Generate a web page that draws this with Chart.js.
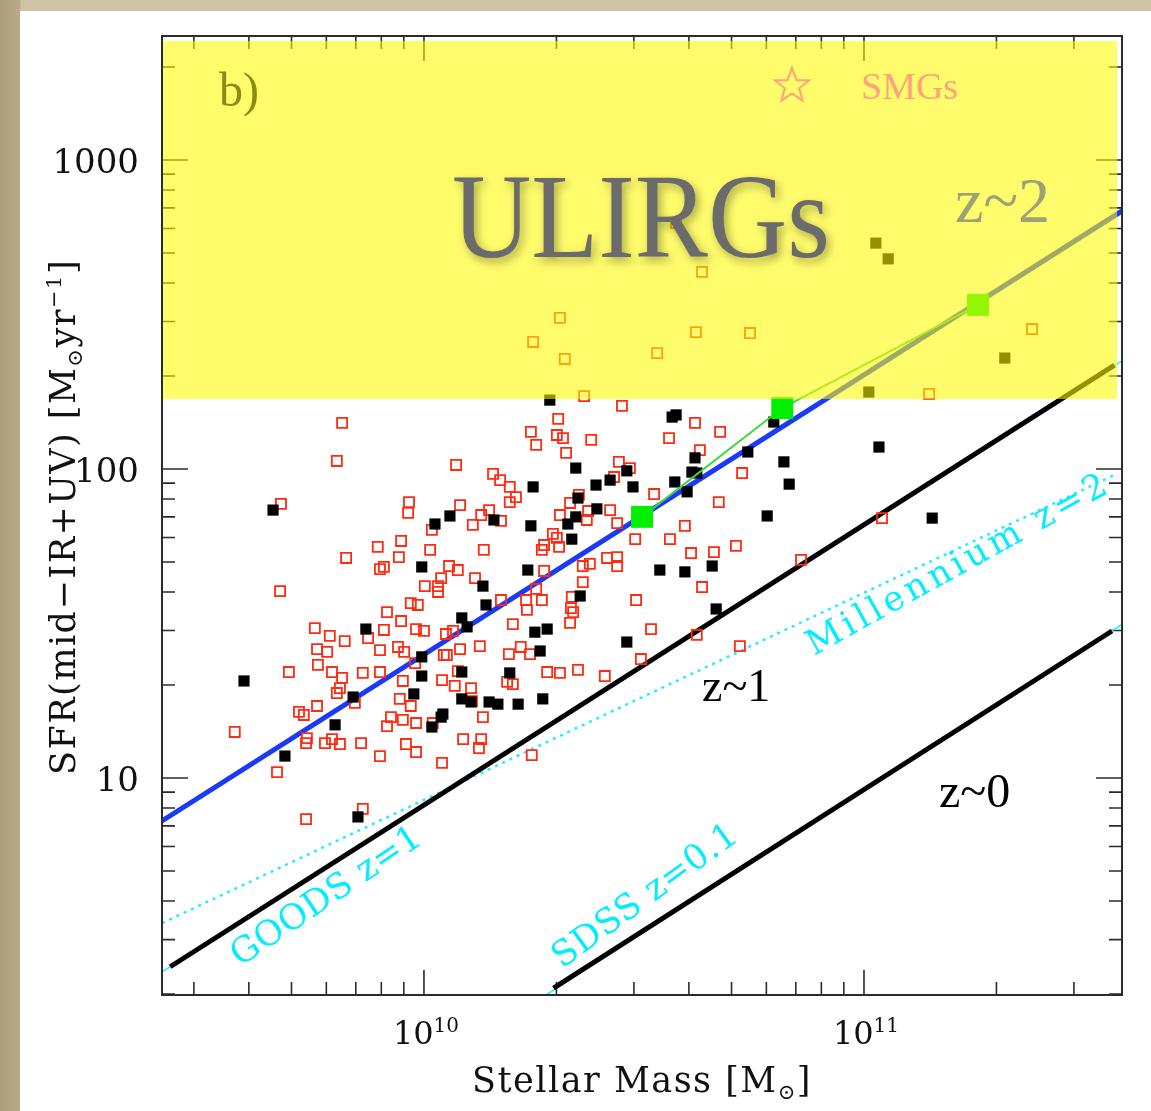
<!DOCTYPE html>
<html>
<head>
  <meta charset="UTF-8" />
  <title>SFR vs Stellar Mass</title>
  <script src="https://cdn.jsdelivr.net/npm/chart.js"></script>
  <style>
    body {
      margin: 0;
      width: 1151px;
      height: 1111px;
      overflow: hidden;
      background: linear-gradient(90deg, #ab9d79 0px, #b9ab88 20px, #cfc3a6 21px);
    }

    #panel {
      position: absolute;
      left: 20px;
      top: 11px;
      width: 1131px;
      height: 1100px;
      background: #fff;
    }

    canvas {
      position: absolute;
      left: 0;
      top: 0;
    }
  </style>
</head>
<body>

  <div id="panel"></div>
  <canvas id="chart" width="1151" height="1111"></canvas>

  <script>
    // axis ranges
    const massRange = [2.539e9, 3.858e11];
    const sfrRange = [1.985, 2519];

    // tick labels
    const xMajorTicks = [1e10, 1e11];
    const xTickExponents = ['10', '11'];
    const yMajorTicks = [10, 100, 1000];
    const yTickLabels = ['10', '100', '1000'];

    // ULIRG band (SFR above ~170 Msun/yr)
    const ulirgMass = [2.55e9, 3.76e11];
    const ulirgSfr = [168.5, 2427];

    // filled black squares, log10(M) and log10(SFR)
    const blackLogM = [9.657, 9.591, 9.684, 9.798, 9.839, 9.850, 9.868, 9.995, 10.025, 10.059,
      10.159, 10.248, 10.243, 10.134, 10.141, 10.086, 10.098, 10.236, 10.252, 10.280,
      10.264, 9.995, 9.995, 10.086, 10.195, 9.977, 10.086, 10.107, 10.148, 10.168,
      10.214, 10.270, 10.043, 10.039, 10.018, 10.286, 10.345, 10.350, 10.345, 10.327,
      10.336, 10.355, 10.391, 10.423, 10.461, 10.475, 10.393, 10.461, 10.536, 10.593,
      10.655, 10.664, 10.564, 10.573, 10.795, 10.736, 10.616, 10.609, 10.620, 10.570,
      10.598, 10.818, 10.830, 11.034, 10.780, 11.155, 11.011, 11.027, 11.055, 11.320];
    const blackLogSfr = [1.867, 1.314, 1.071, 1.172, 1.262, 0.874, 1.482, 1.683, 1.822, 1.848,
      1.835, 1.942, 1.816, 1.621, 1.560, 1.518, 1.489, 1.673, 1.472, 1.482,
      1.411, 1.392, 1.330, 1.343, 1.340, 1.272, 1.256, 1.246, 1.246, 1.239,
      1.239, 1.256, 1.207, 1.197, 1.165, 2.223, 2.003, 1.906, 1.845, 1.822,
      1.773, 1.589, 1.948, 1.964, 1.994, 1.942, 1.871, 1.440, 1.673, 1.667,
      1.686, 1.547, 2.168, 2.175, 2.152, 2.055, 2.036, 1.990, 1.987, 1.958,
      1.926, 2.023, 1.951, 2.071, 1.848, 1.841, 2.249, 2.731, 2.680, 2.359];

    // open red squares, log10(M) and log10(SFR)
    const redLogM = [10.573, 10.632, 10.309, 10.248, 10.320, 10.530, 10.618, 10.741, 11.382, 10.364,
      11.148, 9.814, 9.802, 9.675, 9.673, 9.823, 9.895, 9.948, 9.943, 9.909,
      9.900, 9.966, 9.964, 10.018, 10.014, 10.073, 10.082, 10.111, 10.130, 10.148,
      10.175, 10.136, 10.157, 10.173, 10.195, 10.209, 10.195, 10.243, 10.255, 10.305,
      10.302, 10.316, 10.323, 10.332, 10.309, 10.293, 10.302, 10.273, 10.268, 10.307,
      10.273, 10.255, 10.232, 10.234, 10.268, 10.175, 10.202, 10.220, 10.241, 10.193,
      10.189, 10.202, 10.280, 10.309, 10.350, 10.411, 10.336, 10.334, 10.339, 10.332,
      10.116, 10.057, 10.077, 10.039, 10.032, 10.032, 10.002, 9.916, 9.970, 9.986,
      9.948, 9.909, 9.982, 10.000, 10.050, 10.066, 10.127, 10.082, 10.052, 10.045,
      9.941, 9.955, 9.980, 9.900, 10.041, 10.070, 10.107, 10.077, 9.952, 9.900,
      9.861, 9.814, 9.791, 9.759, 9.780, 9.757, 9.820, 9.786, 9.752, 9.873,
      9.693, 9.809, 9.802, 9.843, 9.757, 9.716, 9.727, 9.570, 9.734, 9.732,
      9.775, 9.791, 9.809, 9.857, 9.666, 9.900, 9.959, 9.982, 10.041, 9.925,
      9.916, 9.952, 9.982, 10.020, 9.945, 9.970, 10.089, 10.130, 10.125, 10.134,
      10.109, 10.245, 9.861, 9.732, 10.450, 10.380, 10.557, 10.616, 10.673, 10.627,
      10.723, 10.443, 10.468, 10.432, 10.523, 10.670, 10.593, 10.559, 10.480, 10.607,
      10.659, 10.709, 10.632, 10.482, 10.516, 10.620, 10.718, 10.857, 11.041, 10.373,
      10.370, 10.423, 10.439, 10.352, 10.361, 10.377, 10.416, 10.439, 10.439, 10.361,
      10.493];
    const redLogSfr = [2.796, 2.638, 2.489, 2.411, 2.356, 2.375, 2.443, 2.440, 2.453, 2.236,
      2.243, 2.149, 2.026, 1.887, 1.605, 1.712, 1.748, 1.767, 1.715, 1.683,
      1.676, 1.893, 1.858, 1.803, 1.738, 2.013, 1.883, 1.819, 1.851, 1.867,
      1.832, 1.738, 1.984, 1.964, 1.942, 1.909, 1.893, 2.120, 2.078, 2.162,
      2.110, 2.100, 2.052, 1.890, 1.851, 1.790, 1.777, 1.754, 1.738, 1.748,
      1.670, 1.612, 1.576, 1.544, 1.576, 1.576, 1.498, 1.424, 1.401, 1.401,
      1.311, 1.304, 1.343, 1.340, 1.350, 1.330, 1.586, 1.550, 1.537, 1.502,
      1.647, 1.686, 1.673, 1.647, 1.621, 1.602, 1.621, 1.537, 1.566, 1.560,
      1.508, 1.479, 1.482, 1.476, 1.466, 1.476, 1.427, 1.417, 1.398, 1.398,
      1.424, 1.408, 1.372, 1.414, 1.317, 1.298, 1.291, 1.346, 1.314, 1.343,
      1.340, 1.324, 1.343, 1.366, 1.408, 1.417, 1.443, 1.460, 1.485, 1.453,
      1.343, 1.291, 1.275, 1.243, 1.233, 1.214, 1.204, 1.149, 1.129, 1.113,
      1.113, 1.126, 1.110, 1.113, 1.019, 1.071, 1.110, 1.084, 1.049, 1.197,
      1.168, 1.188, 1.178, 1.178, 1.256, 1.233, 1.126, 1.126, 1.097, 1.197,
      1.249, 1.074, 0.900, 0.867, 2.204, 2.094, 2.100, 2.149, 2.120, 2.061,
      1.987, 2.023, 2.003, 1.974, 1.919, 1.893, 1.816, 1.773, 1.773, 1.728,
      1.731, 1.751, 1.618, 1.576, 1.482, 1.463, 1.427, 1.706, 1.841, 1.864,
      1.835, 1.867, 1.825, 1.916, 1.686, 1.693, 1.712, 1.715, 1.686, 1.634,
      1.385];

    // stacked (green) points
    const greenMass = [3.13e10, 6.52e10, 1.816e11];
    const greenSfr = [70.0, 157.5, 339.8];

    // relations (end points)
    const z2Mass = [2.539e9, 3.858e11];
    const z2Sfr = [7.26, 684];
    const z1Mass = [2.65e9, 3.71e11];
    const z1Sfr = [2.45, 217];
    const goodsMass = [2.539e9, 3.858e11];
    const goodsSfr = [2.36, 224];
    const millenniumMass = [2.539e9, 3.71e11];
    const millenniumSfr = [3.39, 95.7];
    const z0Mass = [1.97e10, 3.66e11];
    const z0Sfr = [2.09, 29.9];
    const sdssMass = [1.90e10, 3.858e11];
    const sdssSfr = [1.99, 31.4];

    const pairs = (xs, ys) => xs.map((v, i) => ({ x: v, y: ys[i] }));
    const logPairs = (xs, ys) => xs.map((v, i) => ({ x: Math.pow(10, v), y: Math.pow(10, ys[i]) }));

    // minor tick positions
    const xMinorTicks = [];
    const yMinorTicks = [];
    [1e9, 1e10, 1e11].forEach(d => {
      for (let k = 2; k < 10; k++) {
        if (k * d > massRange[0] && k * d < massRange[1]) xMinorTicks.push(k * d);
      }
    });
    [1, 10, 100, 1000].forEach(d => {
      for (let k = 2; k < 10; k++) {
        if (k * d > sfrRange[0] && k * d < sfrRange[1]) yMinorTicks.push(k * d);
      }
    });

    function drawRuns(ctx, parts, x, y, align) {
      let total = 0;
      parts.forEach(p => {
        ctx.font = p.f;
        p.w = ctx.measureText(p.t).width;
        total += p.w;
      });
      let cx = align === 'right' ? x - total : (align === 'center' ? x - total / 2 : x);
      parts.forEach(p => {
        ctx.font = p.f;
        ctx.fillText(p.t, cx, y + (p.dy || 0));
        cx += p.w;
      });
    }

    function slanted(ctx, text, x, y, deg, font, length) {
      ctx.save();
      ctx.translate(x, y);
      ctx.rotate(-deg * Math.PI / 180);
      ctx.font = font;
      ctx.letterSpacing = '0px';
      const w = ctx.measureText(text).width;
      ctx.letterSpacing = ((length - w) / (text.length - 1)) + 'px';
      ctx.fillText(text, 0, 0);
      ctx.restore();
    }

    function star(ctx, cx, cy, r1, r2) {
      ctx.beginPath();
      for (let i = 0; i < 10; i++) {
        const r = i % 2 === 0 ? r1 : r2;
        const a = -Math.PI / 2 + i * Math.PI / 5;
        const px = cx + r * Math.cos(a);
        const py = cy + r * Math.sin(a);
        if (i === 0) ctx.moveTo(px, py); else ctx.lineTo(px, py);
      }
      ctx.closePath();
      ctx.stroke();
    }

    const decorations = {
      id: 'decorations',
      beforeDatasetsDraw(chart) {
        const { ctx, chartArea: a, scales: { x, y } } = chart;
        ctx.save();
        ctx.strokeStyle = '#2b2b2b';
        ctx.lineWidth = 1.6;
        ctx.beginPath();
        const xt = (v, len) => {
          const px = x.getPixelForValue(v);
          ctx.moveTo(px, a.bottom); ctx.lineTo(px, a.bottom - len);
          ctx.moveTo(px, a.top); ctx.lineTo(px, a.top + len);
        };
        const yt = (v, len) => {
          const py = y.getPixelForValue(v);
          ctx.moveTo(a.left, py); ctx.lineTo(a.left + len, py);
          ctx.moveTo(a.right, py); ctx.lineTo(a.right - len, py);
        };
        xMinorTicks.forEach(v => xt(v, 13));
        xMajorTicks.forEach(v => xt(v, 25));
        yMinorTicks.forEach(v => yt(v, 13));
        yMajorTicks.forEach(v => yt(v, 26));
        ctx.stroke();
        ctx.restore();
      },
      afterDatasetsDraw(chart) {
        const { ctx, chartArea: a, scales: { x, y } } = chart;
        ctx.save();

        // translucent ULIRG band
        const bx0 = x.getPixelForValue(ulirgMass[0]);
        const bx1 = x.getPixelForValue(ulirgMass[1]);
        const by0 = y.getPixelForValue(ulirgSfr[1]);
        const by1 = y.getPixelForValue(ulirgSfr[0]);
        ctx.fillStyle = 'rgba(255, 250, 0, 0.58)';
        ctx.fillRect(bx0, by0, bx1 - bx0, by1 - by0);

        // frame
        ctx.strokeStyle = '#2b2b2b';
        ctx.lineWidth = 2;
        ctx.strokeRect(a.left, a.top, a.right - a.left, a.bottom - a.top);

        // tick labels
        ctx.fillStyle = '#111';
        ctx.textBaseline = 'alphabetic';
        yMajorTicks.forEach((v, i) => {
          drawRuns(ctx, [{ t: yTickLabels[i], f: '34px "DejaVu Serif"' }], 139, y.getPixelForValue(v) + 13, 'right');
        });
        xMajorTicks.forEach((v, i) => {
          drawRuns(ctx, [
            { t: '10', f: '32px "DejaVu Serif"' },
            { t: xTickExponents[i], f: '20px "DejaVu Serif"', dy: -12 }
          ], x.getPixelForValue(v) + 2, 1044, 'center');
        });

        // axis titles
        ctx.letterSpacing = '1.5px';
        drawRuns(ctx, [
          { t: 'Stellar Mass [M', f: '35px "DejaVu Serif"' },
          { t: '\u2299', f: '21px "DejaVu Serif"', dy: 7 },
          { t: ']', f: '35px "DejaVu Serif"' }
        ], (a.left + a.right) / 2, 1092, 'center');
        ctx.save();
        ctx.translate(75, 517);
        ctx.rotate(-Math.PI / 2);
        drawRuns(ctx, [
          { t: 'SFR(mid\u2212IR+UV) [M', f: '35px "DejaVu Serif"' },
          { t: '\u2299', f: '21px "DejaVu Serif"', dy: 7 },
          { t: 'yr', f: '35px "DejaVu Serif"' },
          { t: '\u22121', f: '21px "DejaVu Serif"', dy: -14 },
          { t: ']', f: '35px "DejaVu Serif"' }
        ], 0, 0, 'center');
        ctx.restore();
        ctx.letterSpacing = '0px';

        // panel letter and legend
        ctx.fillStyle = '#8d8b14';
        ctx.font = '48px "Liberation Serif"';
        ctx.fillText('b)', 219, 106);
        ctx.strokeStyle = '#ffa27c';
        ctx.lineWidth = 2;
        star(ctx, 792, 86, 18, 7.5);
        ctx.fillStyle = '#ffa27c';
        ctx.font = '38px "Liberation Serif"';
        ctx.fillText('SMGs', 861, 99);

        // relation labels
        ctx.fillStyle = '#9ca276';
        ctx.font = '64px "Liberation Serif"';
        ctx.fillText('z~2', 955, 222);
        ctx.fillStyle = '#000';
        ctx.font = '46px "Liberation Serif"';
        ctx.fillText('z~1', 702, 701);
        ctx.font = '48px "Liberation Serif"';
        ctx.fillText('z~0', 939, 807);

        ctx.fillStyle = '#00eeff';
        slanted(ctx, 'GOODS z=1', 240, 967, 34, '35px "DejaVu Serif"', 222);
        slanted(ctx, 'SDSS z=0.1', 562, 969, 36, '35px "DejaVu Serif"', 220);
        slanted(ctx, 'Millennium z=2', 814, 656, 29, '35px "DejaVu Serif"', 338);

        // ULIRGs title
        ctx.save();
        ctx.font = '120px "Liberation Serif"';
        const w = ctx.measureText('ULIRGs').width;
        ctx.translate(452, 257);
        ctx.scale(378 / w, 1);
        ctx.shadowColor = 'rgba(0, 0, 0, 0.35)';
        ctx.shadowBlur = 10;
        ctx.shadowOffsetX = 3;
        ctx.shadowOffsetY = 4;
        ctx.fillStyle = '#6b6b6b';
        ctx.fillText('ULIRGs', 0, 0);
        ctx.restore();

        ctx.restore();
      }
    };

    const lineDs = (data, color, width, order, dash) => ({
      data: data,
      showLine: true,
      borderColor: color,
      borderWidth: width,
      borderDash: dash || [],
      pointRadius: 0,
      order: order
    });

    new Chart(document.getElementById('chart').getContext('2d'), {
      type: 'scatter',
      data: {
        datasets: [
          {
            data: pairs(greenMass, greenSfr),
            showLine: true,
            borderColor: '#3ed83e',
            borderWidth: 2,
            pointStyle: 'rect',
            pointRadius: 15.5,
            pointBackgroundColor: '#00f000',
            pointBorderWidth: 0,
            order: 0
          },
          {
            data: logPairs(blackLogM, blackLogSfr),
            pointStyle: 'rect',
            pointRadius: 7.9,
            pointBackgroundColor: '#000',
            pointBorderWidth: 0,
            order: 1
          },
          {
            data: logPairs(redLogM, redLogSfr),
            pointStyle: 'rect',
            pointRadius: 7.1,
            pointBackgroundColor: 'rgba(0,0,0,0)',
            pointBorderColor: '#ff2a10',
            pointBorderWidth: 1.8,
            order: 2
          },
          lineDs(pairs(z2Mass, z2Sfr), '#1b3af7', 5, 3),
          lineDs(pairs(z1Mass, z1Sfr), '#000', 5, 4),
          lineDs(pairs(z0Mass, z0Sfr), '#000', 5, 4),
          lineDs(pairs(millenniumMass, millenniumSfr), '#22eeff', 2.5, 5, [3, 5]),
          lineDs(pairs(goodsMass, goodsSfr), '#22eeff', 1.5, 6),
          lineDs(pairs(sdssMass, sdssSfr), '#22eeff', 1.5, 6)
        ]
      },
      options: {
        responsive: false,
        animation: false,
        events: [],
        layout: {
          padding: { left: 162, top: 36, right: 29, bottom: 116 }
        },
        scales: {
          x: { type: 'logarithmic', display: false, min: massRange[0], max: massRange[1] },
          y: { type: 'logarithmic', display: false, min: sfrRange[0], max: sfrRange[1] }
        },
        plugins: {
          legend: { display: false },
          tooltip: { enabled: false }
        }
      },
      plugins: [decorations]
    });
  </script>
</body>
</html>
